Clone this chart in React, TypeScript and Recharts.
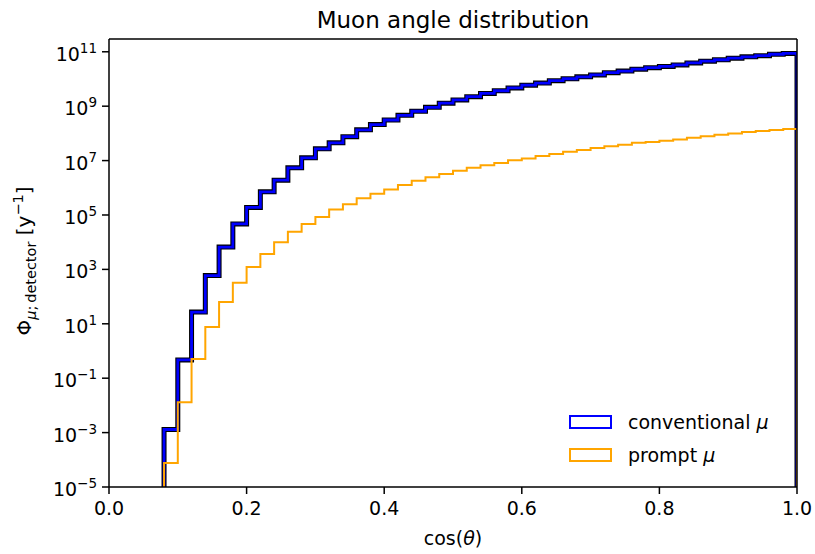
import React from "react";
import { LineChart, Line, XAxis, YAxis, Label, ReferenceLine } from "recharts";

// left edges of the cos(theta) bins (width 0.02), last bin ends at 1.0
const binLeft = [
  0.08, 0.1, 0.12, 0.14, 0.16, 0.18, 0.2, 0.22, 0.24, 0.26, 0.28, 0.3, 0.32,
  0.34, 0.36, 0.38, 0.4, 0.42, 0.44, 0.46, 0.48, 0.5, 0.52, 0.54, 0.56, 0.58,
  0.6, 0.62, 0.64, 0.66, 0.68, 0.7, 0.72, 0.74, 0.76, 0.78, 0.8, 0.82, 0.84,
  0.86, 0.88, 0.9, 0.92, 0.94, 0.96, 0.98,
];
const binEnd = 1.0;

const conventional = [
  1.3e-3, 0.47, 27, 590, 6.6e3, 4.7e4, 1.9e5, 7.1e5, 1.9e6, 5.4e6, 1.26e7,
  2.7e7, 4.5e7, 7.6e7, 1.35e8, 2.1e8, 3.1e8, 4.6e8, 6.5e8, 9.1e8, 1.29e9,
  1.7e9, 2.24e9, 2.95e9, 3.7e9, 4.7e9, 5.9e9, 7.1e9, 8.7e9, 1.02e10, 1.2e10,
  1.41e10, 1.7e10, 1.95e10, 2.3e10, 2.6e10, 2.9e10, 3.3e10, 3.9e10, 4.5e10,
  5.1e10, 5.8e10, 6.5e10, 7.2e10, 8.1e10, 8.7e10,
];

const prompt = [
  7.6e-5, 1.3e-2, 0.51, 7.6, 63, 320, 1.23e3, 3.7e3, 1.0e4, 2.4e4, 4.7e4,
  8.5e4, 1.6e5, 2.5e5, 4.1e5, 6.0e5, 8.7e5, 1.26e6, 1.8e6, 2.45e6, 3.2e6,
  4.2e6, 5.4e6, 6.8e6, 8.1e6, 1.02e7, 1.2e7, 1.48e7, 1.74e7, 2.1e7, 2.45e7,
  2.9e7, 3.4e7, 3.8e7, 4.5e7, 4.8e7, 5.4e7, 6.0e7, 6.9e7, 7.9e7, 8.9e7, 1.0e8,
  1.12e8, 1.23e8, 1.32e8, 1.45e8,
];

const xTicks = [0, 0.2, 0.4, 0.6, 0.8, 1.0];
const yExponents = [-5, -3, -1, 1, 3, 5, 7, 9, 11];
const yTicks = yExponents.map((e) => Math.pow(10, e));
const yMin = 1e-5;
const yMax = 2.95e11;
// empty bins sit below the axis floor (log scale can't show 0)
const FLOOR = 1e-7;

const FONT = "DejaVu Sans, sans-serif";

// step outline: rise at the first edge, drop at the last
const data = [
  { x: binLeft[0], conv: FLOOR, prompt: FLOOR },
  ...binLeft.map((x, i) => ({ x, conv: conventional[i], prompt: prompt[i] })),
  { x: binEnd, conv: FLOOR, prompt: FLOOR },
];

const XTick = (props: any) => {
  const { x, y, payload } = props;
  return (
    <text x={x} y={y + 15} textAnchor="middle" fontSize={19} fontFamily={FONT} fill="#000">
      {payload.value.toFixed(1)}
    </text>
  );
};

const YTick = (props: any) => {
  const { x, y, payload } = props;
  const e = Math.round(Math.log10(payload.value));
  const exp = e < 0 ? "\u2212" + Math.abs(e) : String(e);
  return (
    <text x={x} y={y + 9} textAnchor="end" fontSize={19} fontFamily={FONT} fill="#000">
      10
      <tspan dy={-8} fontSize={13.5}>
        {exp}
      </tspan>
    </text>
  );
};

const Title = () => (
  <text x={453} y={28} textAnchor="middle" fontSize={23} fontFamily={FONT} fill="#000">
    Muon angle distribution
  </text>
);

const XLabel = () => (
  <text x={453} y={545} textAnchor="middle" fontSize={19} fontFamily={FONT} fill="#000">
    cos(<tspan fontStyle="italic">θ</tspan>)
  </text>
);

const YLabel = () => (
  <text
    x={0}
    y={0}
    transform="translate(31,261) rotate(-90)"
    textAnchor="middle"
    fontSize={20}
    fontFamily={FONT}
    fill="#000"
  >
    Φ
    <tspan dy={5} fontSize={14.5}>
      <tspan fontStyle="italic">μ</tspan>;&#8201;detector
    </tspan>
    <tspan dy={-5}> [y</tspan>
    <tspan dy={-8} fontSize={14.5}>
      −1
    </tspan>
    <tspan dy={8}>]</tspan>
  </text>
);

const legendItems = [
  { label: "conventional", color: "#0000ff" },
  { label: "prompt", color: "#ffa500" },
];

export default function App() {
  return (
    <div style={{ position: "absolute", left: 0, top: 0, width: 815, height: 554 }}>
      <LineChart
        width={815}
        height={554}
        data={data}
        margin={{ top: 39, right: 18, left: 0, bottom: 0 }}
      >
        <XAxis
          dataKey="x"
          type="number"
          domain={[0, 1]}
          ticks={xTicks}
          tick={<XTick />}
          tickSize={7}
          tickMargin={6}
          height={67}
          stroke="#000"
          strokeWidth={1.5}
          allowDataOverflow
        >
          <Label content={<XLabel />} />
        </XAxis>
        <YAxis
          scale="log"
          domain={[yMin, yMax]}
          ticks={yTicks}
          tick={<YTick />}
          tickSize={7}
          tickMargin={5}
          width={109}
          stroke="#000"
          strokeWidth={1.5}
          allowDataOverflow
          interval={0}
        >
          <Label content={<YLabel />} />
        </YAxis>
        <Line
          type="stepAfter"
          dataKey="conv"
          stroke="#000"
          strokeWidth={5}
          dot={false}
          activeDot={false}
          isAnimationActive={false}
        />
        <Line
          type="stepAfter"
          dataKey="conv"
          stroke="#0000ff"
          strokeWidth={2.8}
          dot={false}
          activeDot={false}
          isAnimationActive={false}
        />
        <Line
          type="stepAfter"
          dataKey="prompt"
          stroke="#ffa500"
          strokeWidth={2}
          dot={false}
          activeDot={false}
          isAnimationActive={false}
        />
        {/* top and right spines */}
        <ReferenceLine y={yMax} stroke="#000" strokeWidth={1.5}>
          <Label content={<Title />} />
        </ReferenceLine>
        <ReferenceLine x={1} stroke="#000" strokeWidth={1.5} />
      </LineChart>
      <div
        style={{
          position: "absolute",
          left: 569,
          top: 405,
          fontFamily: FONT,
          fontSize: 19,
          color: "#000",
        }}
      >
        {legendItems.map((it) => (
          <div key={it.label} style={{ display: "flex", alignItems: "center", height: 33 }}>
            <span
              style={{
                display: "inline-block",
                width: 43,
                height: 14,
                border: `2px solid ${it.color}`,
                boxSizing: "border-box",
                marginRight: 16,
              }}
            />
            <span>
              {it.label} <i>μ</i>
            </span>
          </div>
        ))}
      </div>
    </div>
  );
}
